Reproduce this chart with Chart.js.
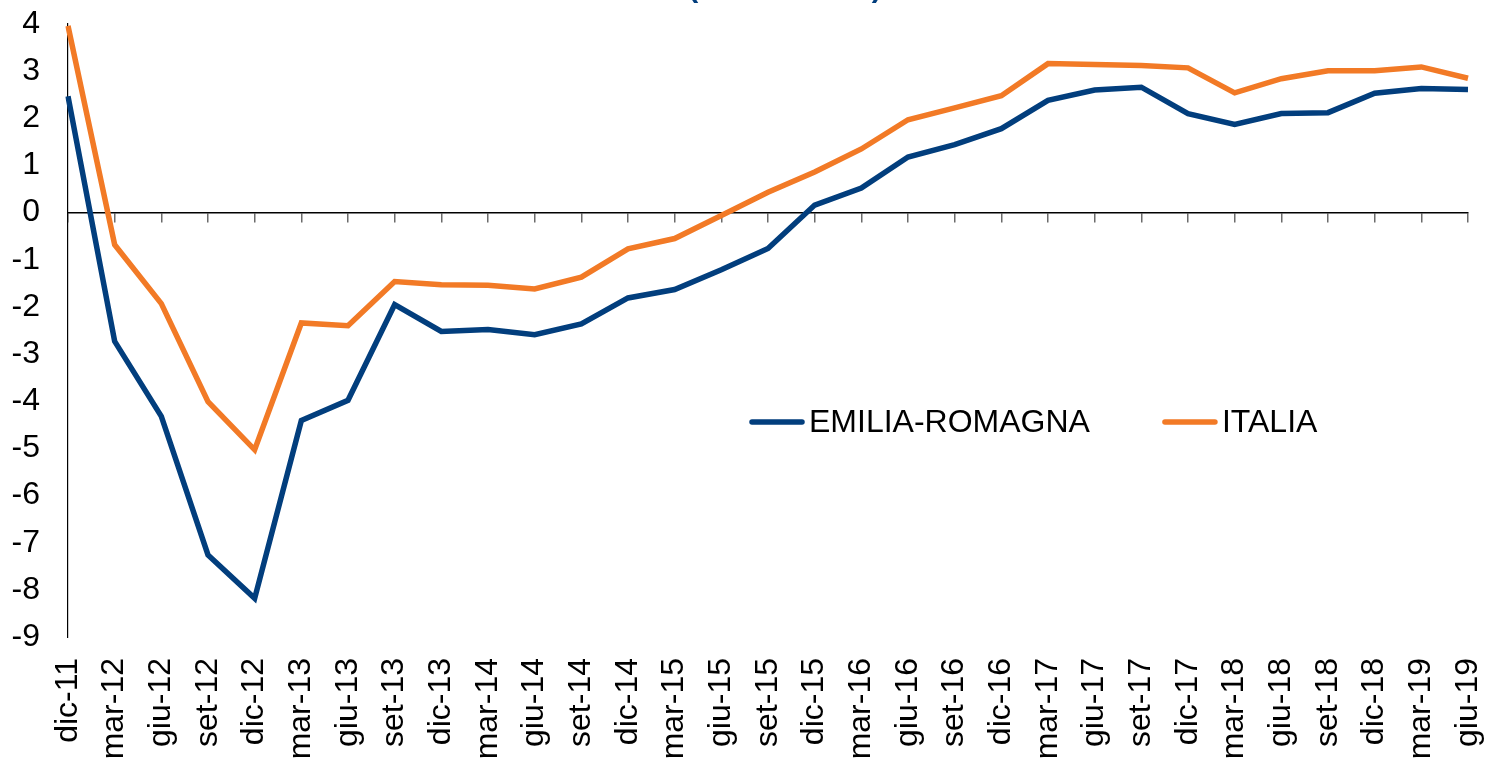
<!DOCTYPE html>
<html>
<head>
<meta charset="utf-8">
<script src="https://cdn.jsdelivr.net/npm/chart.js@4/dist/chart.umd.min.js"></script>
<style>
  html, body { margin: 0; padding: 0; background: #fff; }
  #wrap { width: 1489px; height: 758px; position: relative; }
</style>
</head>
<body>
<div id="wrap"><canvas id="chart"></canvas></div>
<script>
const quarters = ['dic-11', 'mar-12', 'giu-12', 'set-12', 'dic-12', 'mar-13', 'giu-13', 'set-13',
    'dic-13', 'mar-14', 'giu-14', 'set-14', 'dic-14', 'mar-15', 'giu-15', 'set-15',
    'dic-15', 'mar-16', 'giu-16', 'set-16', 'dic-16', 'mar-17', 'giu-17', 'set-17',
    'dic-17', 'mar-18', 'giu-18', 'set-18', 'dic-18', 'mar-19', 'giu-19'];

const emiliaRomagna = [2.47, -2.73, -4.32, -7.26, -8.18, -4.41, -3.98, -1.95,
    -2.52, -2.48, -2.59, -2.36, -1.81, -1.63, -1.21, -0.76,
    0.16, 0.52, 1.18, 1.44, 1.78, 2.38, 2.60, 2.66,
    2.10, 1.87, 2.10, 2.12, 2.53, 2.63, 2.61];

const italia = [3.96, -0.68, -1.93, -4.01, -5.03, -2.34, -2.40, -1.46,
    -1.53, -1.54, -1.62, -1.37, -0.77, -0.55, -0.06, 0.43,
    0.86, 1.35, 1.97, 2.22, 2.48, 3.16, 3.14, 3.12,
    3.07, 2.54, 2.84, 3.01, 3.01, 3.09, 2.85];

const seriesNames = ['EMILIA-ROMAGNA', 'ITALIA'];
const yTicks = { min: -9, max: 4, step: 1 };

const FONT = "'Liberation Sans', Arial, sans-serif";
const BLUE = '#023e7d';
const ORANGE = '#f27a26';

// legend drawn inside the plot area, like the original
const innerLegend = {
    id: 'innerLegend',
    afterDatasetsDraw(chart, args, opts) {
        const ctx = chart.ctx;
        ctx.save();
        ctx.font = opts.size + 'px ' + FONT;
        ctx.textBaseline = 'middle';
        let x = opts.x;
        chart.data.datasets.forEach(ds => {
            ctx.strokeStyle = ds.borderColor;
            ctx.lineWidth = 5.5;
            ctx.lineCap = 'round';
            ctx.beginPath();
            ctx.moveTo(x + 3, opts.y);
            ctx.lineTo(x + opts.lineLen - 3, opts.y);
            ctx.stroke();
            ctx.fillStyle = '#000';
            ctx.fillText(ds.label, x + opts.lineLen + 4, opts.y + 1);
            x += opts.lineLen + 4 + ctx.measureText(ds.label).width + opts.gap;
        });
        ctx.restore();
    }
};

// title sits almost entirely above the picture edge
const cutTitle = {
    id: 'cutTitle',
    afterDraw(chart, args, opts) {
        const ctx = chart.ctx;
        ctx.save();
        ctx.font = 'bold 30px ' + FONT;
        ctx.fillStyle = BLUE;
        ctx.textAlign = 'center';
        ctx.textBaseline = 'alphabetic';
        ctx.fillText(opts.text, opts.x, opts.y);
        ctx.restore();
    }
};

new Chart(document.getElementById('chart'), {
    type: 'line',
    data: {
        labels: quarters,
        datasets: [{
            label: seriesNames[0],
            data: emiliaRomagna,
            borderColor: BLUE,
            borderWidth: 5.5,
            pointRadius: 0,
            tension: 0,
            xAxisID: 'x'
        }, {
            label: seriesNames[1],
            data: italia,
            borderColor: ORANGE,
            borderWidth: 5.5,
            pointRadius: 0,
            tension: 0,
            xAxisID: 'x'
        }]
    },
    options: {
        responsive: true,
        maintainAspectRatio: false,
        animation: false,
        layout: { padding: { top: 24, right: 21, bottom: 0, left: 0 } },
        scales: {
            x: {
                type: 'category',
                position: 'bottom',
                offset: false,
                grid: { display: false, drawTicks: false },
                border: { display: false },
                ticks: {
                    autoSkip: false,
                    minRotation: 90,
                    maxRotation: 90,
                    padding: 21,
                    color: '#000',
                    font: { family: FONT, size: 32 }
                },
                afterFit(scale) {
                    scale.height = 121;
                    scale.paddingLeft = 0;
                    scale.paddingRight = 0;
                }
            },
            x0: {
                type: 'category',
                position: { y: 0 },
                offset: false,
                grid: { drawOnChartArea: false, drawTicks: true, tickLength: 9, color: '#6b6b6b', lineWidth: 1.5 },
                border: { display: true, color: '#000', width: 1.5 },
                ticks: { display: false }
            },
            y: {
                min: yTicks.min,
                max: yTicks.max,
                grid: { display: false, drawTicks: false },
                border: { display: true, color: '#000', width: 1.2 },
                ticks: {
                    stepSize: yTicks.step,
                    padding: 28,
                    color: '#000',
                    font: { family: FONT, size: 32 }
                },
                afterFit(scale) {
                    scale.width = 68;
                    scale.paddingTop = 0;
                    scale.paddingBottom = 0;
                }
            }
        },
        plugins: {
            legend: { display: false },
            tooltip: { enabled: false },
            innerLegend: { x: 749, y: 422, lineLen: 56, gap: 72, size: 32 },
            cutTitle: { text: '(variazioni %)', x: 785, y: -3 }
        }
    },
    plugins: [innerLegend, cutTitle]
});
</script>
</body>
</html>
